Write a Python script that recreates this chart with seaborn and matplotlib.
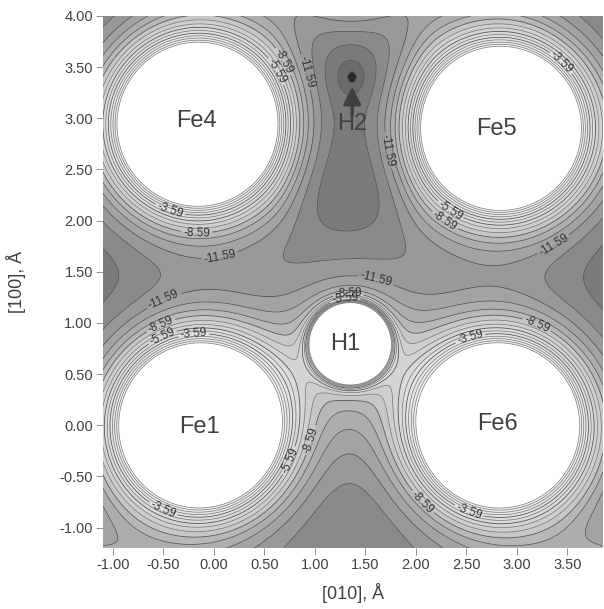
import numpy as np
import matplotlib
matplotlib.use("Agg")
import matplotlib.pyplot as plt
from matplotlib.ticker import FormatStrFormatter, MultipleLocator
import seaborn as sns

# atom sites (Angstrom); images outside the frame keep the edges right
FE_X = [-0.14, 2.82, -0.16, 2.84, -3.14, -3.16, 5.82, 5.84, -0.14, 2.82, -0.16, 2.84]
FE_Y = [0.00, 0.00, 2.94, 2.90, 0.00, 2.94, 0.00, 2.90, -2.92, -2.92, 5.86, 5.82]
H_X = [1.35, 1.36, -1.25, 3.85]
H_Y = [0.80, 4.55, -1.80, -1.80]

# pockets: H2 channel, H2 site, H2 spot, raised floor at the bottom edge (negative depth)
WELL_X = [1.36, 1.36, 1.37, 1.35]
WELL_Y = [3.00, 3.42, 3.40, -1.50]
WELL_SX = [0.55, 0.16, 0.045, 0.90]
WELL_SY = [0.85, 0.19, 0.055, 0.45]
WELL_DEPTH = [1.7, 1.1, 1.0, -0.8]
WELL_POWER = [4, 2, 2, 2]

BASE = -15.0
FE_AMP, FE_R0, FE_DECAY = 11.4, 0.88, 3.6
H_CORE, H_CORE_DECAY, H_TAIL, H_TAIL_DECAY, H_R0 = 9.0, 20.0, 5.3, 2.5, 0.40

LEVELS = [-15.59, -14.59, -13.59, -12.59, -11.59, -10.59, -9.59, -8.59,
          -7.59, -6.59, -5.59, -4.59, -3.59, -2.59, -1.59, -0.59, 0.41]
FILL_GRAYS = ["0.15", "0.42", "0.48", "0.54", "0.60", "0.64", "0.68", "0.72", "0.78",
              "0.81", "0.83", "0.85", "0.87", "0.89", "0.91", "0.93", "0.95", "1.0"]

LABELS = {
    -3.59: [(-0.42, 2.14), (3.33, 3.43), (-0.19, 0.81), (-0.46, -0.73), (2.55, 0.81), (2.58, -0.70)],
    -5.59: [(0.48, 3.38), (2.41, 2.21), (1.30, 1.23), (-0.49, 0.82), (0.67, -0.31)],
    -8.59: [(0.55, 3.48), (-0.17, 1.92), (2.36, 2.11), (1.33, 1.31), (-0.50, 0.92),
            (0.95, -0.14), (3.18, 0.94), (2.16, -0.66)],
    -11.59: [(0.85, 3.43), (0.06, 1.64), (1.71, 2.68), (3.33, 1.82), (1.62, 1.48), (-0.49, 1.21)],
}
ATOMS = ["Fe4", "Fe5", "Fe1", "Fe6", "H1", "H2"]
ATOM_POS = [(-0.17, 2.97), (2.80, 2.89), (-0.14, -0.02), (2.81, 0.01), (1.30, 0.79), (1.37, 2.94)]


def potential(X, Y):
    V = np.full_like(X, BASE)
    for x0, y0 in zip(FE_X, FE_Y):
        r = np.hypot(X - x0, Y - y0)
        V += FE_AMP * np.exp(-FE_DECAY * (r - FE_R0))
    for x0, y0 in zip(H_X, H_Y):
        r = np.hypot(X - x0, Y - y0)
        V += H_CORE * np.exp(-H_CORE_DECAY * (r - H_R0)) + H_TAIL * np.exp(-H_TAIL_DECAY * (r - H_R0))
    for x0, y0, sx, sy, d, p in zip(WELL_X, WELL_Y, WELL_SX, WELL_SY, WELL_DEPTH, WELL_POWER):
        V -= d * np.exp(-0.5 * (np.abs((X - x0) / sx) ** p + np.abs((Y - y0) / sy) ** p))
    return np.minimum(V, 5.0)


sns.set_theme(style="white")
plt.rcParams["font.family"] = ["Liberation Sans", "DejaVu Sans"]

xs = np.linspace(-1.1, 3.85, 600)
ys = np.linspace(-1.2, 4.0, 600)
X, Y = np.meshgrid(xs, ys)
Z = potential(X, Y)

fig = plt.figure(figsize=(6.04, 6.09), dpi=100)
ax = fig.add_axes([0.170, 0.100, 0.828, 0.874])

ax.contourf(X, Y, Z, levels=LEVELS, colors=FILL_GRAYS, extend="both")
plain = [lev for lev in LEVELS if lev not in LABELS]
line_cols = ["0.45" if lev > -8 else "0.3" for lev in plain]
ax.contour(X, Y, Z, levels=plain, colors=line_cols, linewidths=0.5, linestyles="solid")
for lev, spots in LABELS.items():
    cs = ax.contour(X, Y, Z, levels=[lev], colors="0.3", linewidths=0.55, linestyles="solid")
    ax.clabel(cs, manual=spots, fmt="%.2f", fontsize=8.5,
              colors="0.2", inline=True, inline_spacing=2)

for name, (x, y) in zip(ATOMS, ATOM_POS):
    ax.text(x, y, name, ha="center", va="center", fontsize=17, color="0.25")
# arrow from the H2 label up to the H2 site
ax.annotate("", xy=(1.37, 3.31), xytext=(1.37, 3.03),
            arrowprops=dict(arrowstyle="-|>", color="0.25", lw=2.5, mutation_scale=26,
                            shrinkA=0, shrinkB=0))

ax.set_xlim(-1.1, 3.85)
ax.set_ylim(-1.2, 4.0)
ax.xaxis.set_major_locator(MultipleLocator(0.5))
ax.yaxis.set_major_locator(MultipleLocator(0.5))
ax.xaxis.set_major_formatter(FormatStrFormatter("%.2f"))
ax.yaxis.set_major_formatter(FormatStrFormatter("%.2f"))
ax.tick_params(axis="both", direction="out", length=5, width=0.6, color="0.5",
               labelsize=10.5, labelcolor="0.25", left=True, bottom=True, pad=2)
for s in ax.spines.values():
    s.set_visible(False)

ax.set_xlabel("[010], Å", fontsize=13, color="0.25")
ax.set_ylabel("[100], Å", fontsize=13, color="0.25")
ax.xaxis.set_label_coords(0.5, -0.066)
ax.yaxis.set_label_coords(-0.154, 0.5)

fig.savefig("out.png", dpi=100)
